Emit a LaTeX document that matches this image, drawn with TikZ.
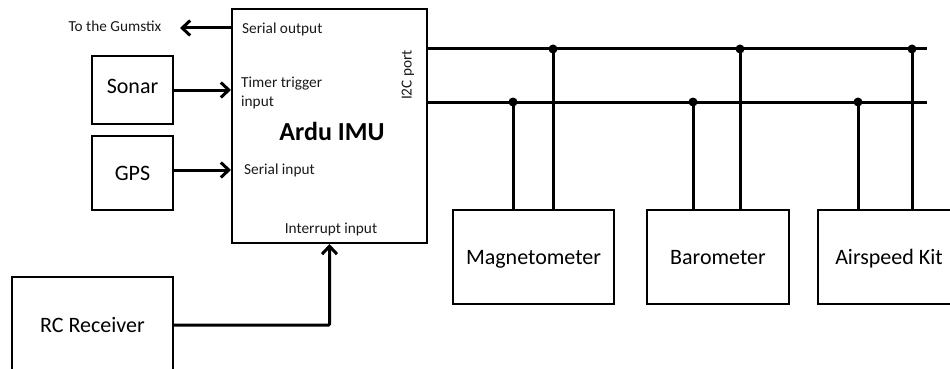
\documentclass[tikz,border=0pt]{standalone}
\usepackage{fontspec}
\setmainfont{Carlito}
\usetikzlibrary{arrows.meta}
\tikzset{
  blk/.style={draw=black, line width=2pt, inner sep=0pt, text depth=0pt, font=\fontsize{22}{26}\selectfont},
  lbl/.style={inner sep=0pt, font=\fontsize{15.3}{19}\selectfont, text=black!90},
  wire/.style={line width=3pt},
  arr/.style={line width=3pt, -{Straight Barb[length=8pt,width=15pt]}},
  junc/.style={circle, fill=black, inner sep=0pt, minimum size=9pt}
}
\begin{document}
\begin{tikzpicture}[x=1pt,y=-1pt]
\useasboundingbox (0,0) rectangle (950,369);
% main block
\node[blk, minimum width=195pt, minimum height=234pt] (imu) at (329.5,126) {};
\node[inner sep=0pt, font=\fontsize{26}{30}\selectfont\bfseries] (imut) at (332,131) {Ardu IMU};
\node[lbl, anchor=west] (serout) at (242,29) {Serial output};
\node[lbl, anchor=west, align=left] (timer) at (241,92.5) {Timer trigger\\input};
\node[lbl, anchor=west] (serin) at (244,170) {Serial input};
\node[lbl] (intin) at (331,229) {Interrupt input};
\node[lbl, rotate=90] (i2c) at (408,75) {I2C port};
% left blocks
\node[blk, text depth=7pt, minimum width=81pt, minimum height=68pt] (sonar) at (132.5,90) {Sonar};
\node[blk, minimum width=81pt, minimum height=74pt] (gps) at (132.5,173) {GPS};
\node[blk, minimum width=161pt, minimum height=96pt] (rc) at (92.5,325) {RC Receiver};
\node[lbl] (gum) at (115,26) {To the Gumstix};
% right blocks
\node[blk, minimum width=161pt, minimum height=94pt] (mag) at (533.5,257) {Magnetometer};
\node[blk, minimum width=142pt, minimum height=94pt] (baro) at (718,257) {Barometer};
\node[blk, minimum width=142pt, minimum height=94pt] (air) at (889,257) {Airspeed Kit};
% arrows
\coordinate (gumend) at (180,28);
\draw[arr] (imu.west |- gumend) -- (gumend);
\draw[arr] (sonar.east) -- (sonar.east -| imu.west);
\draw[arr] (gps.east) ++(0,-3) coordinate (gpsout) -- (gpsout -| imu.west);
\draw[arr, rounded corners=1pt] (rc.east) -| (imu.south);
% I2C bus
\coordinate (busA) at (927,49);
\coordinate (busB) at (927,102);
\draw[wire] (imu.east |- busA) -- (busA);
\draw[wire] (imu.east |- busB) -- (busB);
\node[junc] (a1) at (553,49) {};
\node[junc] (a2) at (740,49) {};
\node[junc] (a3) at (912,49) {};
\node[junc] (b1) at (513,102) {};
\node[junc] (b2) at (693,102) {};
\node[junc] (b3) at (858,102) {};
\draw[wire] (a1.center) -- (a1.center |- mag.north);
\draw[wire] (b1.center) -- (b1.center |- mag.north);
\draw[wire] (a2.center) -- (a2.center |- baro.north);
\draw[wire] (b2.center) -- (b2.center |- baro.north);
\draw[wire] (a3.center) -- (a3.center |- air.north);
\draw[wire] (b3.center) -- (b3.center |- air.north);
\end{tikzpicture}
\end{document}
